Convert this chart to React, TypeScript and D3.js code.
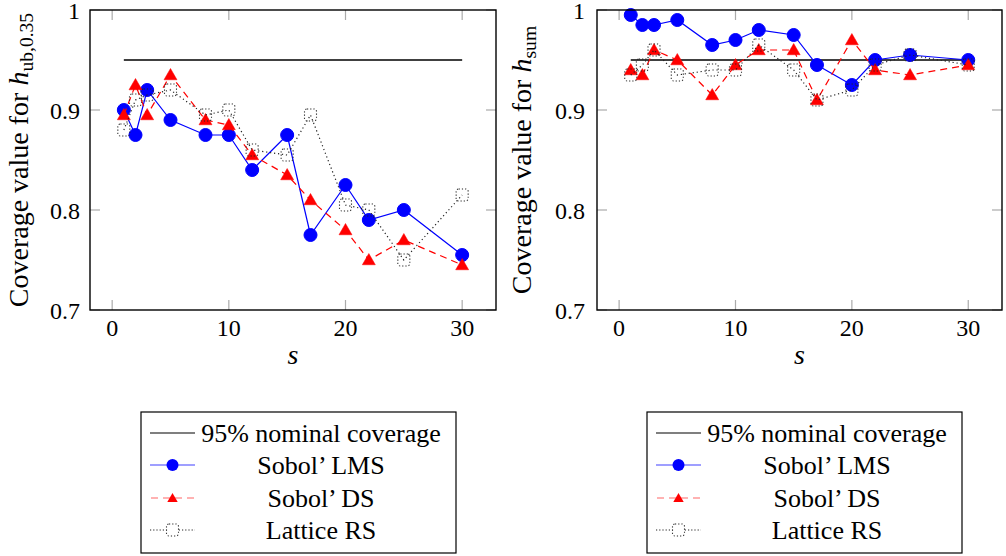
import React from "react";
import * as d3 from "d3";

const S = [1, 2, 3, 5, 8, 10, 12, 15, 17, 20, 22, 25, 30];
const leftLMS = [0.9, 0.875, 0.92, 0.89, 0.875, 0.875, 0.84, 0.875, 0.775, 0.825, 0.79, 0.8, 0.755];
const leftDS = [0.895, 0.925, 0.895, 0.935, 0.89, 0.885, 0.855, 0.835, 0.81, 0.78, 0.75, 0.77, 0.745];
const leftLattice = [0.88, 0.91, 0.915, 0.92, 0.895, 0.9, 0.86, 0.855, 0.895, 0.805, 0.8, 0.75, 0.815];
const rightLMS = [0.995, 0.985, 0.985, 0.99, 0.965, 0.97, 0.98, 0.975, 0.945, 0.925, 0.95, 0.955, 0.95];
const rightDS = [0.94, 0.935, 0.96, 0.95, 0.915, 0.945, 0.96, 0.96, 0.91, 0.97, 0.94, 0.935, 0.945];
const rightLattice = [0.935, 0.945, 0.96, 0.935, 0.94, 0.94, 0.965, 0.94, 0.91, 0.92, 0.945, 0.955, 0.945];
const nominal = 0.95;
const xTicks = [0, 10, 20, 30];
const yTicks = [0.7, 0.8, 0.9, 1];
const yTickLabels = ["0.7", "0.8", "0.9", "1"];
const legendLabels = ["95% nominal coverage", "Sobol’ LMS", "Sobol’ DS", "Lattice RS"];

const FONT = "Liberation Serif";
const TICK_FS = 24;
const AXIS_FS = 28;
const LEG_FS = 26;
const BLUE = "#0000ff";
const RED = "#ff0000";

function triPath(cx: number, cy: number, r: number) {
  const pts = [0, 1, 2].map((i) => {
    const a = -Math.PI / 2 + (i * 2 * Math.PI) / 3;
    return [cx + r * Math.cos(a), cy + r * Math.sin(a)];
  });
  return `M${pts[0][0]},${pts[0][1]}L${pts[1][0]},${pts[1][1]}L${pts[2][0]},${pts[2][1]}Z`;
}

function Markers({ kind, pts }: { kind: string; pts: [number, number][] }) {
  return (
    <g>
      {pts.map(([x, y], i) => {
        if (kind === "circle") return <circle key={i} cx={x} cy={y} r={6.5} fill={BLUE} stroke={BLUE} />;
        if (kind === "tri") return <path key={i} d={triPath(x, y + 1, 7.5)} fill={RED} stroke={RED} strokeWidth={0.5} />;
        return (
          <rect key={i} x={x - 6} y={y - 6} width={12} height={12} rx={2.5} fill="none" stroke="#222" strokeWidth={1.1} strokeDasharray="1.2,2" />
        );
      })}
    </g>
  );
}

function Panel({
  x0, x1, lms, ds, lat, labelMain, sub, labelX, tickRight,
}: {
  x0: number; x1: number; lms: number[]; ds: number[]; lat: number[]; labelMain: string; sub: string; labelX: number; tickRight: number;
}) {
  const y0 = 10, y1 = 310;
  const x = d3.scaleLinear().domain([-1.9, 32.9]).range([x0, x1]);
  const y = d3.scaleLinear().domain([0.7, 1]).range([y1, y0]);
  const line = d3.line<number>().x((_, i) => x(S[i])).y((d) => y(d));
  const pts = (arr: number[]) => arr.map((v, i) => [x(S[i]), y(v)] as [number, number]);
  const TL = 10;
  return (
    <g>
      {xTicks.map((t) => (
        <g key={"xt" + t}>
          <line x1={x(t)} x2={x(t)} y1={y1} y2={y1 - TL} stroke="#aaa" strokeWidth={1.2} />
          <line x1={x(t)} x2={x(t)} y1={y0} y2={y0 + TL} stroke="#aaa" strokeWidth={1.2} />
          <text x={x(t)} y={336} textAnchor="middle" fontFamily={FONT} fontSize={TICK_FS}>{t}</text>
        </g>
      ))}
      {yTicks.map((t, i) => (
        <g key={"yt" + t}>
          <line x1={x0} x2={x0 + TL} y1={y(t)} y2={y(t)} stroke="#aaa" strokeWidth={1.2} />
          <line x1={x1} x2={x1 - TL} y1={y(t)} y2={y(t)} stroke="#aaa" strokeWidth={1.2} />
          <text x={tickRight} y={y(t) + 8.5} textAnchor="end" fontFamily={FONT} fontSize={TICK_FS}>{yTickLabels[i]}</text>
        </g>
      ))}
      <line x1={x(1)} x2={x(30)} y1={y(nominal)} y2={y(nominal)} stroke="#000" strokeWidth={1.3} />
      <path d={line(lms) || ""} fill="none" stroke={BLUE} strokeWidth={1.2} />
      <Markers kind="circle" pts={pts(lms)} />
      <path d={line(ds) || ""} fill="none" stroke={RED} strokeWidth={1.2} strokeDasharray="7,5" />
      <Markers kind="tri" pts={pts(ds)} />
      <path d={line(lat) || ""} fill="none" stroke="#222" strokeWidth={1.2} strokeDasharray="1.2,2.8" />
      <Markers kind="sq" pts={pts(lat)} />
      <rect x={x0} y={y0} width={x1 - x0} height={y1 - y0} fill="none" stroke="#000" strokeWidth={1.4} />
      <text x={(x0 + x1) / 2} y={364} textAnchor="middle" fontFamily={FONT} fontSize={AXIS_FS} fontStyle="italic">s</text>
      <text transform={`translate(${labelX},${(y0 + y1) / 2}) rotate(-90)`} textAnchor="middle" fontFamily={FONT} fontSize={AXIS_FS}>
        {labelMain}
        <tspan fontStyle="italic">h</tspan>
        <tspan fontSize={AXIS_FS * 0.7} dy={5}>{sub}</tspan>
      </text>
    </g>
  );
}

function Legend({ left }: { left: number }) {
  const top = 412, bottom = 553, width = 315;
  const rows = [433, 465, 498, 530];
  const sx0 = left + 9, sx1 = left + 54, sm = (sx0 + sx1) / 2;
  const tc = left + 180;
  return (
    <g>
      <rect x={left} y={top} width={width} height={bottom - top} fill="#fff" stroke="#000" strokeWidth={1.2} />
      <line x1={sx0} x2={sx1} y1={rows[0]} y2={rows[0]} stroke="#000" strokeWidth={1.2} />
      <line x1={sx0} x2={sx1} y1={rows[1]} y2={rows[1]} stroke={BLUE} strokeOpacity={0.75} strokeWidth={1.2} />
      <circle cx={sm} cy={rows[1]} r={6} fill={BLUE} />
      <line x1={sx0} x2={sx1} y1={rows[2]} y2={rows[2]} stroke={RED} strokeOpacity={0.6} strokeWidth={1.2} strokeDasharray="7,5" strokeDashoffset={-1} />
      <path d={triPath(sm, rows[2] + 1, 6)} fill={RED} />
      <line x1={sx0} x2={sx1} y1={rows[3]} y2={rows[3]} stroke="#222" strokeWidth={1.1} strokeDasharray="1.2,2" />
      <rect x={sm - 6} y={rows[3] - 6} width={12} height={12} rx={2.5} fill="#fff" stroke="#222" strokeWidth={1.1} strokeDasharray="1.2,2" />
      {legendLabels.map((t, i) => (
        <text key={t} x={tc} y={rows[i] + 9} textAnchor="middle" fontFamily={FONT} fontSize={LEG_FS}>{t}</text>
      ))}
    </g>
  );
}

export default function App() {
  return (
    <svg width={1006} height={556} style={{ position: "absolute", left: 0, top: 0, background: "#fff" }}>
      <rect width={1006} height={556} fill="#fff" />
      <Panel x0={90} x1={496} lms={leftLMS} ds={leftDS} lat={leftLattice} labelMain="Coverage value for " sub="ub,0.35" labelX={28} tickRight={80} />
      <Panel x0={597} x1={1002} lms={rightLMS} ds={rightDS} lat={rightLattice} labelMain="Coverage value for " sub="sum" labelX={531} tickRight={585} />
      <Legend left={141} />
      <Legend left={647} />
    </svg>
  );
}
